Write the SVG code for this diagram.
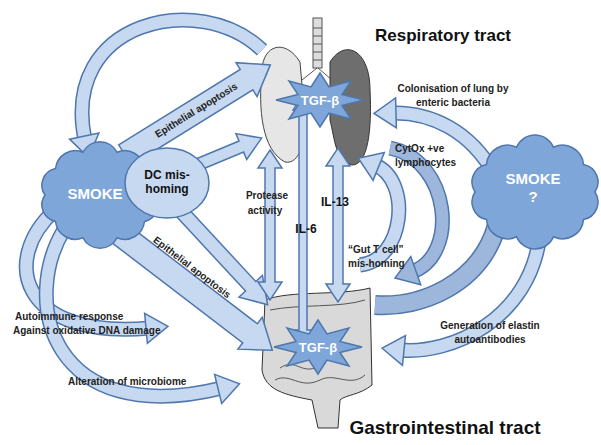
<svg xmlns="http://www.w3.org/2000/svg" width="601" height="445" viewBox="0 0 601 445">
<style>
.blk{fill:#c6d9f0;stroke:#4f77ad;stroke-width:1.5}
.o{fill:none;stroke:#4f77ad;stroke-width:15}
.i{fill:none;stroke:#c6d9f0;stroke-width:12}
.id{fill:none;stroke:#9db7dc;stroke-width:12}
.t{font-family:"Liberation Sans",Arial,sans-serif;font-size:10px;font-weight:bold;fill:#222}
.h{font-family:"Liberation Sans",Arial,sans-serif;font-weight:bold;fill:#111}
.cloud{fill:#7ea6d8;stroke:#4f77ad;stroke-width:1.5}
.star{fill:#7ea6d8;stroke:#4f77ad;stroke-width:1.5}
.w{font-family:"Liberation Sans",Arial,sans-serif;font-weight:bold;fill:#fff}
</style>
<defs>
<marker id="hd" markerUnits="userSpaceOnUse" markerWidth="34" markerHeight="34" refX="4" refY="15" orient="auto" overflow="visible">
<polygon points="0,0 22,15 0,30" fill="#c6d9f0" stroke="#4f77ad" stroke-width="1.5"/>
</marker>
<marker id="hdd" markerUnits="userSpaceOnUse" markerWidth="34" markerHeight="34" refX="4" refY="15" orient="auto" overflow="visible">
<polygon points="0,0 22,15 0,30" fill="#9db7dc" stroke="#4f77ad" stroke-width="1.5"/>
</marker>
<polygon id="star" points="44,0 22,5.5 31,19 9,13 0,27 -9,13 -31,19 -22,5.5 -44,0 -22,-5.5 -31,-19 -9,-13 0,-27 9,-13 31,-19 22,-5.5"/>
</defs>
<rect width="601" height="445" fill="#fff"/>
<g id="lungs">
<rect x="313" y="18" width="9" height="50" fill="#ddd" stroke="#555"/>
<path d="M313,28h9M313,36h9M313,44h9M313,52h9M313,60h9M317,68 L302,80 M318,68 L332,80" stroke="#555" fill="none"/>
<path d="M300,62 C285,38 263,45 262,70 C258,110 262,150 285,162 C300,165 305,140 305,120 Z" fill="#e6e6e6" stroke="#444"/>
<path d="M330,62 C345,38 370,50 370,90 C372,130 368,165 352,165 C335,160 335,140 330,120 Z" fill="#6e6e6e" stroke="#333"/>
</g>
<g id="gut">
<path d="M265,300 C290,290 340,296 370,288 L372,385 C360,395 345,395 340,400 L338,428 L318,428 L312,400 C285,395 265,390 262,370 Z" fill="#d9d9d9" stroke="#333"/>
<path d="M270,310 C300,304 340,308 365,300 M275,380 C290,372 300,390 320,380 C335,372 350,388 365,375 M280,368 C295,358 300,373 315,368" fill="none" stroke="#555"/>
</g>
<g id="connectors">
<polygon class="blk" transform="translate(125,155) rotate(-31.8)" points="0,-12 143,-12 143,-20 171,0 143,20 143,12 0,12"/>
<polygon class="blk" transform="translate(185,170) rotate(-22.6)" points="0,-6 61,-6 61,-14 83,0 61,14 61,6 0,6"/>
<polygon class="blk" transform="translate(180,210) rotate(47.2)" points="0,-7 104,-7 104,-16 129,0 104,16 104,7 0,7"/>
<polygon class="blk" transform="translate(115,230) rotate(37.4)" points="0,-12 170,-12 170,-20 198,0 170,20 170,12 0,12"/>
<polygon class="blk" points="270,150 282,168 275,168 275,282 282,282 270,300 258,282 265,282 265,168 258,168"/>
<polygon class="blk" points="338,148 350,166 343,166 343,284 350,284 338,302 326,284 333,284 333,166 326,166"/>
<polygon class="blk" points="303,95 313,110 307,110 307,330 313,330 303,345 293,330 299,330 299,110 293,110"/>
<g><path class="o" d="M262,50 C200,-10 60,20 85,140"/><path class="i" d="M262,50 C200,-10 60,20 85,140" marker-end="url(#hd)"/></g>
<g><path class="o" d="M55,210 C0,260 20,340 150,328"/><path class="i" d="M55,210 C0,260 20,340 150,328" marker-end="url(#hd)"/></g>
<g><path class="o" d="M65,228 C20,300 50,430 222,388"/><path class="i" d="M65,228 C20,300 50,430 222,388" marker-end="url(#hd)"/></g>
<g><path class="o" d="M495,175 C470,130 430,112 392,113"/><path class="i" d="M495,175 C470,130 430,112 392,113" marker-end="url(#hd)"/></g>
<g><path class="o" d="M390,148 C450,160 460,255 412,272"/><path class="id" d="M390,148 C450,160 460,255 412,272" marker-end="url(#hdd)"/></g>
<g><path class="o" d="M360,265 C405,260 412,180 375,165"/><path class="i" d="M360,265 C405,260 412,180 375,165" marker-end="url(#hd)"/></g>
<g><path d="M497,225 C480,285 420,308 375,305" fill="none" stroke="#4f77ad" stroke-width="20"/><path d="M497,225 C480,285 420,308 375,305" fill="none" stroke="#9db7dc" stroke-width="17"/></g>
<g><path class="o" d="M540,235 C530,320 450,355 400,350"/><path class="i" d="M540,235 C530,320 450,355 400,350" marker-end="url(#hd)"/></g>
</g>
<g id="tgf-top"><use href="#star" class="star" transform="translate(320,100)"/><text class="w" x="320" y="105" font-size="13" text-anchor="middle">TGF-β</text></g>
<g id="tgf-bottom"><use href="#star" class="star" transform="translate(318,347)"/><text class="w" x="318" y="352" font-size="13" text-anchor="middle">TGF-β</text></g>
<g id="smoke-left">
<path class="cloud" d="M155,195 A17,17 0 0 1 144.5,221.5 A20,20 0 0 1 117,237.8 A19,19 0 0 1 83,237.8 A20,20 0 0 1 55.5,221.5 A17,17 0 0 1 45,195 A17,17 0 0 1 55.5,168.5 A20,20 0 0 1 83,152.2 A19,19 0 0 1 117,152.2 A20,20 0 0 1 144.5,168.5 A17,17 0 0 1 155,195 Z"/>
<text class="w" x="95" y="199" font-size="15" text-anchor="middle">SMOKE</text>
</g>
<g id="dc"><ellipse cx="167" cy="183" rx="42" ry="35" fill="#c6d9f0" stroke="#4f77ad" stroke-width="1.5"/>
<text class="h" x="167" y="179" font-size="12" text-anchor="middle">DC mis-</text><text class="h" x="167" y="193" font-size="12" text-anchor="middle">homing</text></g>
<g id="smoke-right">
<path class="cloud" d="M595,192 A18,18 0 0 1 583.5,219.6 A21,21 0 0 1 553.5,236.7 A20,20 0 0 1 516.5,236.7 A21,21 0 0 1 486.5,219.6 A18,18 0 0 1 475,192 A18,18 0 0 1 486.5,164.4 A21,21 0 0 1 516.5,147.3 A20,20 0 0 1 553.5,147.3 A21,21 0 0 1 583.5,164.4 A18,18 0 0 1 595,192 Z"/>
<text class="w" x="533" y="184" font-size="15" text-anchor="middle">SMOKE</text><text class="w" x="533" y="202" font-size="15" text-anchor="middle">?</text>
</g>
<g id="labels">
<text class="t" transform="translate(198,113) rotate(-31.8)" text-anchor="middle" font-size="11.5">Epithelial apoptosis</text>
<text class="t" transform="translate(190,270) rotate(37.4)" text-anchor="middle" font-size="11.5">Epithelial apoptosis</text>
<text class="t" x="267" y="199" text-anchor="middle">Protease</text><text class="t" x="265" y="214" text-anchor="middle">activity</text>
<text class="h" x="306" y="233" font-size="12" text-anchor="middle">IL-6</text>
<text class="h" x="335" y="206" font-size="12" text-anchor="middle">IL-13</text>
<text class="t" x="453" y="92" text-anchor="middle">Colonisation of lung by</text><text class="t" x="453" y="106" text-anchor="middle">enteric bacteria</text>
<text class="t" x="395" y="152">CytOx +ve</text><text class="t" x="395" y="166">lymphocytes</text>
<text class="t" x="348" y="253">“Gut T cell”</text><text class="t" x="348" y="267">mis-homing</text>
<text class="t" x="490" y="329" text-anchor="middle">Generation of elastin</text><text class="t" x="490" y="343" text-anchor="middle">autoantibodies</text>
<text class="t" x="15" y="320">Autoimmune response</text><text class="t" x="13" y="334">Against oxidative DNA damage</text>
<text class="t" x="68" y="385">Alteration of microbiome</text>
<text class="h" x="443" y="41" font-size="17" text-anchor="middle">Respiratory tract</text>
<text class="h" x="445" y="434" font-size="19" text-anchor="middle">Gastrointestinal tract</text>
</g>
</svg>
